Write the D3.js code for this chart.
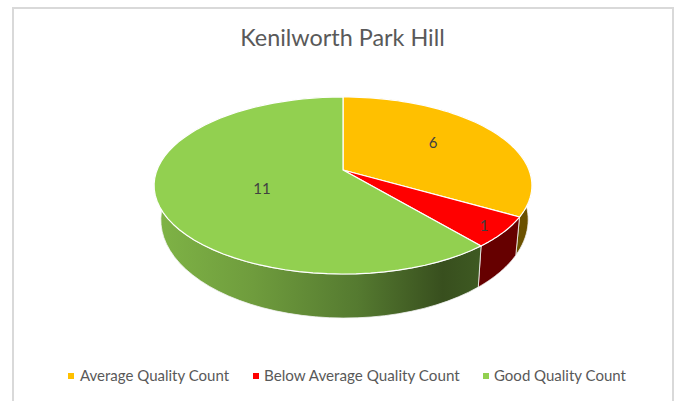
<!DOCTYPE html>
<html><head><meta charset="utf-8">
<script src="https://cdn.jsdelivr.net/npm/d3@7/dist/d3.min.js"></script>
<style>html,body{margin:0;padding:0;background:#fff;overflow:hidden}svg{display:block}text{font-family:Lato,"Open Sans",sans-serif}</style>
</head><body><svg id="c" width="678" height="401"></svg>
<script>
const chartTitle = "Kenilworth Park Hill";
const categories = ["Average Quality Count", "Below Average Quality Count", "Good Quality Count"];
const values = [6, 1, 11];
const topColors = ["#ffc000", "#ff0000", "#92d050"];
const sideColors = ["#6b5100", "#660000", null];
const labelSpots = [[433,143],[484,226],[262,189]];
const legendSwatchX = [68,253,483];
const legendTextX = [80,264,494];
const legendFontSize = [15,15.2,15];

const svg = d3.select("#c");
svg.append("rect").attr("x",13).attr("y",8).attr("width",660).attr("height",420)
   .attr("fill","#fff").attr("stroke","#d9d9d9").attr("stroke-width",2);

const defs = svg.append("defs");
const gr = defs.append("linearGradient").attr("id","gside").attr("gradientUnits","userSpaceOnUse")
  .attr("x1",155).attr("x2",482).attr("y1",0).attr("y2",0);
[[0,"#7fb446"],[0.3,"#6f9c3d"],[0.62,"#557a30"],[0.88,"#384f1e"],[1,"#3e5a22"]].forEach(s=>gr.append("stop").attr("offset",s[0]).attr("stop-color",s[1]));

const pie = d3.pie().sort(null).value(d=>d).startAngle(0).endAngle(2*Math.PI);
const arcs = pie(values);

const proj = (p)=>{
  const sx = d3.scaleLinear().domain([-1,1]).range([p.cx-p.a,p.cx+p.a]);
  const sy = d3.scaleLinear().domain([-1,1]).range([p.cy-p.b,p.cy+p.b]);
  return t=>{const u=Math.sin(t),v=-Math.cos(t),d=1-p.k*v;return [sx(u/d),sy(v/d)];};
};
const topP = proj({cx:343,cy:170,a:186,b:85.8,k:0.175});
const botP = proj({cx:344.5,cy:203,a:181,b:95.5,k:0.17});
const line = d3.line();
const samples=(a0,a1)=>d3.range(0,61).map(i=>a0+(a1-a0)*i/60);

svg.selectAll("path.side").data(arcs).join("path").attr("class","side")
  .attr("d",d=>{const s=samples(d.startAngle,d.endAngle);return line(s.map(topP).concat(s.slice().reverse().map(botP)))+"Z";})
  .attr("fill",(d,i)=>sideColors[i]||"url(#gside)")
  .attr("stroke","#f2f2f2").attr("stroke-width",0.8);

svg.selectAll("path.top").data(arcs).join("path").attr("class","top")
  .attr("d",d=>line([[343,170]].concat(samples(d.startAngle,d.endAngle).map(topP)))+"Z")
  .attr("fill",(d,i)=>topColors[i])
  .attr("stroke","#fff").attr("stroke-width",1.2).attr("stroke-linejoin","round");

svg.selectAll("text.val").data(values).join("text").attr("class","val")
  .attr("x",(d,i)=>labelSpots[i][0]).attr("y",(d,i)=>labelSpots[i][1]+5)
  .attr("text-anchor","middle").attr("font-size",15).attr("fill","#404040").text(d=>d);

svg.append("text").attr("x",342.5).attr("y",46).attr("text-anchor","middle")
  .attr("font-size",23.4).attr("fill","#595959").text(chartTitle);

svg.selectAll("rect.sw").data(categories).join("rect").attr("class","sw")
  .attr("x",(d,i)=>legendSwatchX[i]).attr("y",373).attr("width",6).attr("height",6)
  .attr("fill",(d,i)=>topColors[i]);
svg.selectAll("text.lg").data(categories).join("text").attr("class","lg")
  .attr("x",(d,i)=>legendTextX[i]).attr("y",381)
  .attr("font-size",(d,i)=>legendFontSize[i]).attr("fill","#595959").text(d=>d);
</script></body></html>
